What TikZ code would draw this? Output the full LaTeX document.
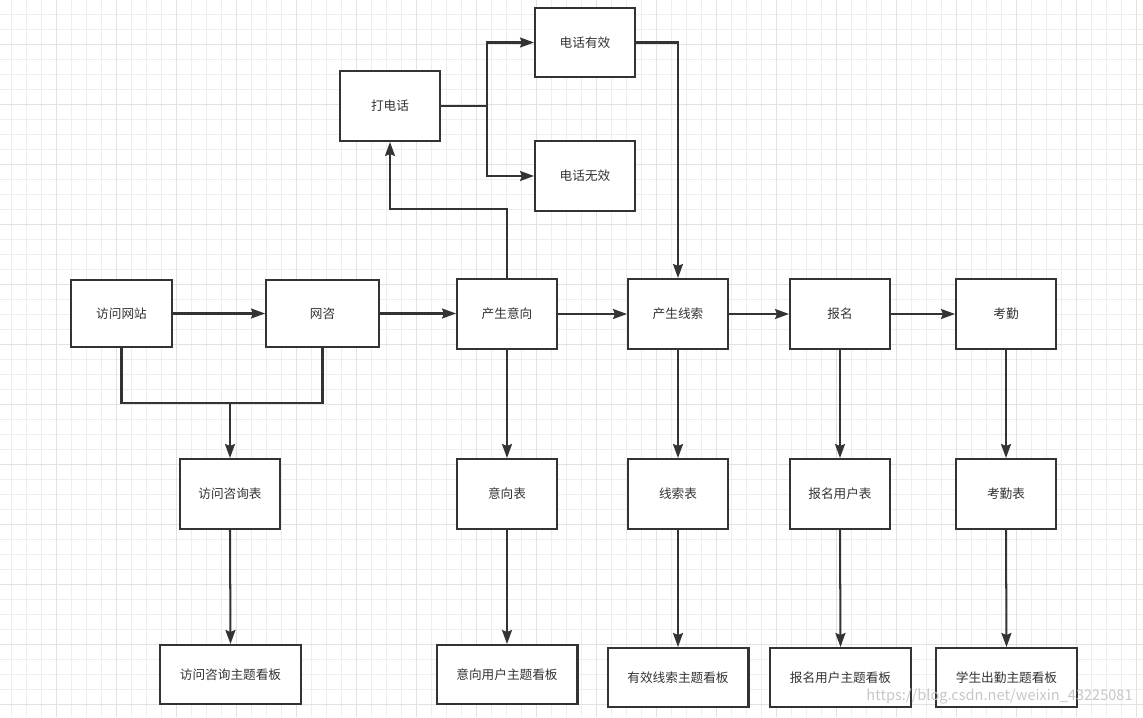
\documentclass[tikz,border=0pt]{standalone}
\usepackage{fontspec}
\usetikzlibrary{arrows.meta}
\newfontfamily\cjk{Noto Sans CJK SC}
\definecolor{xian}{HTML}{333333}
\definecolor{gexiao}{HTML}{EEEEEE}
\definecolor{geda}{HTML}{E2E2E2}
\tikzset{ %方框与箭头
    kuang/.style={draw=xian, line width=1.15pt, fill=white, text=xian, font=\cjk\fontsize{7.2pt}{9pt}\selectfont, minimum width=2cm, minimum height=1.4cm, inner sep=0pt},
    kanban/.style={kuang, minimum width=2.82cm, minimum height=1.18cm},
    lian/.style={draw=xian, line width=1.15pt},
    jian/.style={lian, -{Stealth[length=2.8mm,width=2mm,inset=0.4mm]}},
    gexian/.style={draw=gexiao, line width=0.5pt},
    gezhu/.style={draw=geda, line width=0.55pt},
}

\begin{document}
\begin{tikzpicture}[x=0.02cm, y=-0.02cm]
		\useasboundingbox (0,0) rectangle (1143,717);
		\fill[white] (0,0) rectangle (1143,717);
		\foreach \i in {0,...,75}{
			\draw[gexian] ({11.7+15*\i},0) -- ({11.7+15*\i},717);
		}
		\foreach \i in {0,...,46}{
			\draw[gexian] (0,{14.3+15*\i}) -- (1143,{14.3+15*\i});
		}
		\foreach \i in {0,...,18}{
			\draw[gezhu] ({56.7+60*\i},0) -- ({56.7+60*\i},717);
		}
		\foreach \i in {0,...,11}{
			\draw[gezhu] (0,{44.3+60*\i}) -- (1143,{44.3+60*\i});
		}
		% 第一行
		\node[kuang, minimum width=2.02cm, minimum height=1.34cm] (visit) at (121.5,313.5) {访问网站};
		\node[kuang, minimum width=2.26cm, minimum height=1.34cm] (consult) at (322.5,313.5) {网咨};
		\node[kuang] (intent) at (507,314) {产生意向};
		\node[kuang] (lead) at (678,314) {产生线索};
		\node[kuang] (signup) at (840,314) {报名};
		\node[kuang] (attend) at (1006,314) {考勤};
		% 电话
		\node[kuang] (call) at (390,106) {打电话};
		\node[kuang, minimum height=1.38cm] (valid) at (585,42.5) {电话有效};
		\node[kuang] (invalid) at (585,176) {电话无效};
		% 表
		\node[kuang] (visittab) at (230,494) {访问咨询表};
		\node[kuang] (intenttab) at (507,494) {意向表};
		\node[kuang] (leadtab) at (678,494) {线索表};
		\node[kuang] (signuptab) at (840,494) {报名用户表};
		\node[kuang] (attendtab) at (1006,494) {考勤表};
		% 看板
		\node[kanban] (visitboard) at (230.5,674.5) {访问咨询主题看板};
		\node[kanban] (intentboard) at (507,674.5) {意向用户主题看板};
		\node[kanban] (leadboard) at (678,677.5) {有效线索主题看板};
		\node[kanban] (signupboard) at (840.5,677.5) {报名用户主题看板};
		\node[kanban] (attendboard) at (1006.5,677.5) {学生出勤主题看板};
		\coordinate (merge) at (230,403);
		\coordinate (split) at (487,106);

		\draw[jian] (visit) -- (consult);
		\draw[jian] (consult.east) -- (intent.west |- consult.east);
		\draw[jian] (intent) -- (lead);
		\draw[jian] (lead) -- (signup);
		\draw[jian] (signup) -- (attend);
		\draw[lian] (visit.south) |- (merge);
		\draw[lian] (consult.south) |- (merge);
		\draw[jian] (merge) -- (visittab.north);
		\draw[jian] (intent.north) -- ++(0,-69) -| (call.south);
		\draw[lian] (call.east) -- (split);
		\draw[jian] (split) |- (valid.west);
		\draw[jian] (split) |- (invalid.west);
		\draw[jian] (valid.east) -| (lead.north);
		\foreach \a/\b in {intent/intenttab, lead/leadtab, signup/signuptab, attend/attendtab, visittab/visitboard, intenttab/intentboard, leadtab/leadboard, signuptab/signupboard, attendtab/attendboard}{
			\draw[jian] (\a.south) -- (\b.north);
		}
		\node[anchor=east, text=black!22, font=\cjk\fontsize{8.3pt}{10pt}\selectfont, inner sep=0pt] (mark) at (1133,697) {https://blog.csdn.net/weixin\_43225081};
	\end{tikzpicture}
\end{document}
